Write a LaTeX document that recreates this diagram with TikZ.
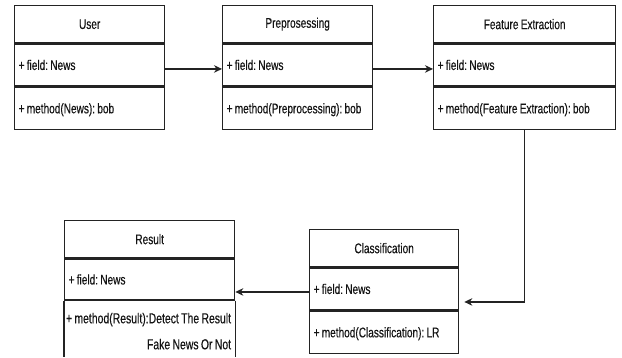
\documentclass[tikz,border=0pt]{standalone}
\usepackage{fontspec}
\setmainfont{Liberation Sans}[FakeStretch=0.72, WordSpace=0.8, FakeBold=0.35]
\usetikzlibrary{arrows.meta}
\definecolor{linec}{RGB}{35,35,35}
\definecolor{txtc}{RGB}{20,20,20}
\frenchspacing
\begin{document}
\begin{tikzpicture}[x=1pt,y=-1pt,
  box/.style={draw=linec, line width=1.3pt, inner sep=0pt, anchor=north west, text=txtc},
  head/.style={box, font=\fontsize{14}{16}\selectfont, minimum height=37pt},
  row/.style={box, font=\fontsize{14}{16}\selectfont, minimum height=42pt, align=flush left, inner xsep=4pt},
  flow/.style={line width=1.3pt, draw=linec, -{Stealth[length=8pt,width=7.5pt]}},
  side/.style={line width=1.3pt, draw=linec}]
\useasboundingbox (0,0) rectangle (622,357);

% User class
\node[head, minimum width=150pt] (user-t) at (14,5) {User};
\node[row, text width=142pt] (user-f) at (user-t.south west) {+ field: News};
\node[row, text width=142pt, text depth=-6pt] (user-m) at (user-f.south west) {+ method(News): bob};

% Preprocessing class
\node[head, minimum width=150pt] (pre-t) at (222,5) {Preprosessing};
\node[row, text width=142pt] (pre-f) at (pre-t.south west) {+ field: News};
\node[row, text width=142pt, text depth=-6pt] (pre-m) at (pre-f.south west) {+ method(Preprocessing): bob};

% Feature extraction class
\node[head, minimum width=182pt] (feat-t) at (433,5) {Feature Extraction};
\node[row, text width=174pt] (feat-f) at (feat-t.south west) {+ field: News};
\node[row, text width=174pt, text depth=-6pt] (feat-m) at (feat-f.south west) {+ method(Feature Extraction): bob};

% Classification class
\node[head, minimum width=149pt] (cls-t) at (309,229) {Classification};
\node[row, text width=141pt] (cls-f) at (cls-t.south west) {+ field: News};
\node[row, text width=141pt, text depth=-6pt] (cls-m) at (cls-f.south west) {+ method(Classification): LR};

% Result class (runs past the lower edge)
\node[head, minimum width=170pt] (res-t) at (64,220) {Result};
\node[row, text width=162pt, minimum height=41pt] (res-f) at (res-t.south west) {+ field: News};
\node[anchor=north east, inner sep=0pt, align=right, text=txtc,
      font=\fontsize{14.5}{26}\selectfont] (res-m) at ([xshift=-4pt,yshift=-12pt]res-f.south east)
      {+ method(Result):Detect The Result\\Fake News Or Not};
\draw[side] (res-f.south west) -- (res-f.south west |- 0,357);
\draw[side] (res-f.south east) -- (res-f.south east |- 0,357);

% Flow between the classes
\draw[flow] ([yshift=-4pt]user-f.east) -- ([yshift=-4pt]pre-f.west);
\draw[flow] ([yshift=-4pt]pre-f.east) -- ([yshift=-4pt]feat-f.west);
\draw[flow] (feat-m.south) |- ([xshift=5pt,yshift=-13pt]cls-f.east);
\draw[flow] ([yshift=-3pt]cls-f.west) -- ([yshift=-3pt]cls-f.west -| res-f.east);
\end{tikzpicture}
\end{document}
